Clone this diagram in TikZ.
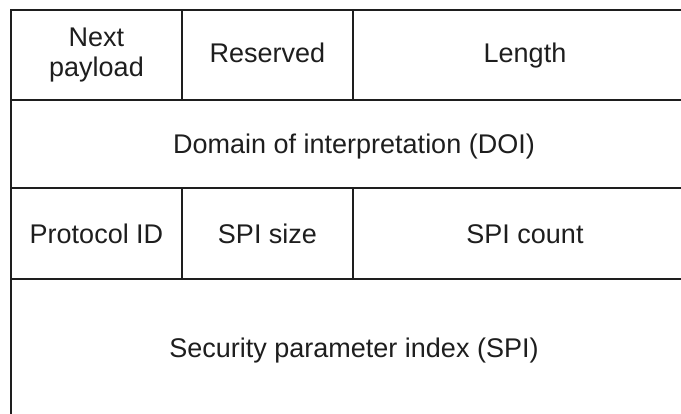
\documentclass[tikz,border=0pt]{standalone}
\usepackage{fontspec}
\setmainfont{Liberation Sans}
\definecolor{ink}{HTML}{1E1E1E}
\tikzset{
  cell/.style={draw=ink, line width=2.8pt, rectangle, inner sep=0pt, outer sep=0pt,
    text=ink, font=\fontsize{27}{30}\selectfont, align=center},
  capmid/.style={text height=19.5pt, text depth=0pt},
  caphigh/.style={text height=19.5pt, text depth=5pt},
}
\begin{document}
\begin{tikzpicture}[x=1pt,y=-1pt]
\useasboundingbox (0,0) rectangle (681,414);
\clip (0,0) rectangle (681,414);
\fill[white] (0,0) rectangle (681,414);
\node[cell, minimum width=171pt, minimum height=90pt] (np) at (96.5,55) {Next\\payload};
\node[cell, caphigh, minimum width=171pt, minimum height=90pt] (res) at (267.5,55) {Reserved};
\node[cell, caphigh, minimum width=344pt, minimum height=90pt] (len) at (525,55) {Length};
\node[cell, capmid, minimum width=686pt, minimum height=88pt] (doi) at (354,144) {Domain of interpretation (DOI)};
\node[cell, capmid, minimum width=171pt, minimum height=91pt] (pid) at (96.5,233.5) {Protocol ID};
\node[cell, capmid, minimum width=171pt, minimum height=91pt] (size) at (267.5,233.5) {SPI size};
\node[cell, capmid, minimum width=344pt, minimum height=91pt] (count) at (525,233.5) {SPI count};
\node[cell, caphigh, minimum width=686pt, minimum height=142pt] (spi) at (354,350) {Security parameter index (SPI)};
\end{tikzpicture}
\end{document}
